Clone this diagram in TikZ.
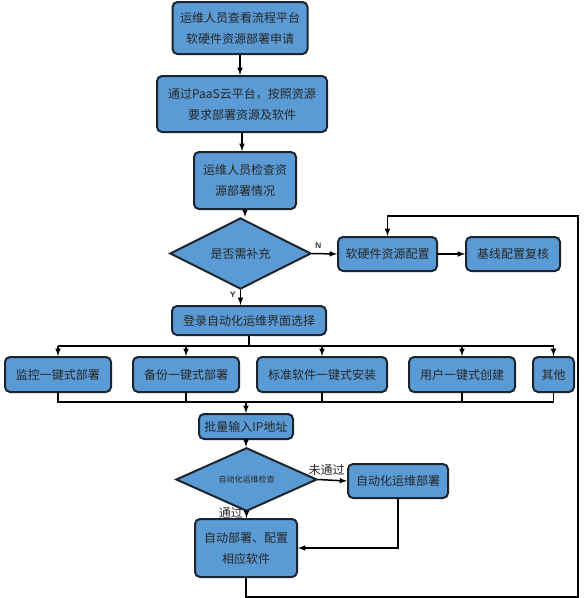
\documentclass[tikz,border=0pt]{standalone}
\usepackage{fontspec}
\setmainfont{Noto Sans CJK SC}
\usepackage{pgf, tikz}
\usetikzlibrary{arrows,shapes,positioning}

\definecolor{bleu}{RGB}{91,155,213}
\definecolor{bord}{RGB}{28,36,46}
\tikzset{
etape/.style={draw=bord, line width=2pt, fill=bleu, rounded corners=5pt, align=center, inner sep=0pt, text=black!85, font=\fontsize{12}{21}\selectfont},
choix/.style={draw=bord, line width=2pt, fill=bleu, diamond, inner sep=0pt, text=black!85},
fleche/.style={black, line width=1.5pt, ->, >=latex},
trait/.style={black, line width=1.5pt},
etiq/.style={inner sep=1pt, text=black!85}
}

\begin{document}
\begin{tikzpicture}[x=1pt,y=-1pt]
\useasboundingbox (0,0) rectangle (588,598);

% etapes du haut
\node[etape, minimum width=135, minimum height=52] (e1) at(240,28) {运维人员查看流程平台\\软硬件资源部署申请};
\node[etape, minimum width=170, minimum height=56] (e2) at(242,104) {通过PaaS云平台，按照资源\\要求部署资源及软件};
\node[etape, minimum width=102, minimum height=57] (e3) at(245,180.5) {运维人员检查资\\源部署情况};

% choix 1
\node[choix, minimum width=141, minimum height=51, font=\fontsize{12}{14}\selectfont] (d1) at(240.5,253.5) {是否需补充};
\node[etape, minimum width=99, minimum height=34] (c1) at(387.5,254) {软硬件资源配置};
\node[etape, minimum width=94, minimum height=34] (c2) at(513,254) {基线配置复核};

% selection
\node[etape, minimum width=154, minimum height=29] (l) at(249,320.5) {登录自动化运维界面选择};
\coordinate (br) at(249,346);
\coordinate (jn) at(246,402);

\node[etape, minimum width=106, minimum height=35] (m1) at(58,374.5) {监控一键式部署};
\node[etape, minimum width=106, minimum height=35] (m2) at(186,374.5) {备份一键式部署};
\node[etape, minimum width=130, minimum height=35] (m3) at(322,374.5) {标准软件一键式安装};
\node[etape, minimum width=106, minimum height=35] (m4) at(462,374.5) {用户一键式创建};
\node[etape, minimum width=41, minimum height=35] (m5) at(553.5,374.5) {其他};

% bas
\node[etape, minimum width=94, minimum height=25] (ip) at(246,426.5) {批量输入IP地址};
\node[choix, minimum width=141, minimum height=51, font=\fontsize{8}{9}\selectfont] (d2) at(246.5,479.5) {自动化运维检查};
\node[etape, minimum width=100, minimum height=34] (a1) at(398,481) {自动化运维部署};
\node[etape, minimum width=102, minimum height=58] (a2) at(246,548) {自动部署、配置\\相应软件};
\coordinate (coin) at(578,216);

% liens
\draw[fleche](e1.south)--(e1.south |- e2.north);
\draw[fleche](e2.south)--(e2.south |- e3.north);
\draw[fleche](e3.south)--(e3.south |- d1.north);
\draw[fleche](d1.east)--(c1.west)node[etiq,pos=0.25,above,yshift=3pt,font=\sffamily\bfseries\fontsize{8}{9}\selectfont]{N};
\draw[fleche](c1)--(c2);
\draw[fleche](d1.south)--(d1.south |- l.north)node[etiq,pos=0.3,left,xshift=-3pt,font=\sffamily\bfseries\fontsize{8}{9}\selectfont]{Y};

% branches
\draw[trait](l.south)--(br);
\draw[trait](m1.north |- br)--(m5.north |- br);
\draw[fleche](m1.north |- br)--(m1.north);
\draw[fleche](m2.north |- br)--(m2.north);
\draw[fleche](m3.north |- br)--(m3.north);
\draw[fleche](m4.north |- br)--(m4.north);
\draw[fleche](m5.north |- br)--(m5.north);

\draw[trait](m1.south)|-(m5.south |- jn)--(m5.south);
\draw[trait](m2.south)--(m2.south |- jn);
\draw[trait](m3.south)--(m3.south |- jn);
\draw[trait](m4.south)--(m4.south |- jn);
\draw[fleche](jn)--(ip.north);

\draw[fleche](ip.south)--(ip.south |- d2.north);
\draw[fleche](d2.east)--(a1.west)node[etiq,pos=0.3,above,yshift=3pt,font=\fontsize{12}{14}\selectfont]{未通过};
\draw[fleche](d2.south)--(d2.south |- a2.north)node[etiq,pos=0.3,left,xshift=-2pt,yshift=1pt,font=\fontsize{12}{14}\selectfont]{通过};
\draw[fleche](a1.south)|-(a2.east);

% retour
\draw[fleche](a2.south)--++(0,19)-|(coin)-|(c1.north);

\end{tikzpicture}
\end{document}
